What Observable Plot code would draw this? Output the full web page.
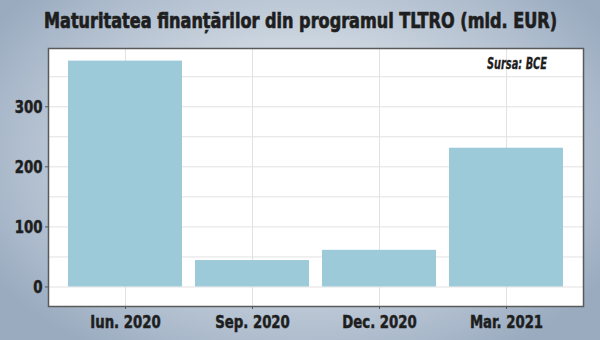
<!DOCTYPE html>
<html>
<head>
<meta charset="utf-8">
<script src="https://cdn.jsdelivr.net/npm/d3@7"></script>
<script src="https://cdn.jsdelivr.net/npm/@observablehq/plot@0.6"></script>
<style>
  html, body { margin: 0; padding: 0; }
  #wrap {
    width: 600px; height: 340px; overflow: hidden; position: relative;
    background: radial-gradient(ellipse 60% 70% at 50% 45%, #e3e8ee 0%, #cdd6e0 45%, #a9b8ca 85%, #9aabbf 100%);
    font-family: "Liberation Sans Narrow", "DejaVu Sans Condensed", sans-serif;
  }
  #title {
    position: absolute; left: 44px; top: 10px; line-height: 22px; white-space: nowrap;
    font-size: 22px; font-weight: bold; color: #1e1e1e;
    -webkit-text-stroke: 0.7px #1e1e1e;
    transform-origin: 0 50%;
  }
  #chart { position: absolute; left: 0; top: 36px; }
  #src {
    position: absolute; left: 487px; top: 55px; white-space: nowrap;
    font-size: 15px; font-weight: bold; font-style: italic; color: #1e1e1e;
    -webkit-text-stroke: 0.3px #1e1e1e;
    transform-origin: 0 50%;
  }
  svg { display: block; }
</style>
</head>
<body>
<div id="wrap">
  <div id="chart"></div>
  <div id="title">Maturitatea finanțărilor din programul TLTRO (mld. EUR)</div>
  <div id="src">Sursa: BCE</div>
</div>
<script>
const categories = ["Iun. 2020", "Sep. 2020", "Dec. 2020", "Mar. 2021"];
const values = [376, 44, 61, 231];
const yTicks = [0, 100, 200, 300];
const gridValues = [0, 50, 100, 150, 200, 250, 300, 350];

const data = categories.map((c, i) => ({category: c, value: values[i]}));

const chart = Plot.plot({
  width: 600,
  height: 304,
  marginLeft: 48,
  marginRight: 17,
  marginTop: 12,
  marginBottom: 34,
  style: {
    background: "transparent",
    fontFamily: '"Liberation Sans Narrow", "DejaVu Sans Condensed", sans-serif',
    fontSize: "18px",
    fontWeight: "bold",
    color: "#1e1e1e"
  },
  x: {domain: categories, padding: 0.1, paddingOuter: 0.15, label: null},
  y: {domain: [-32.5, 397], label: null},
  marks: [
    Plot.frame({fill: "white", stroke: "none"}),
    Plot.ruleY(gridValues, {stroke: "#e2e2e2", strokeWidth: 1}),
    Plot.ruleX(categories, {x: d => d, stroke: "#e2e2e2", strokeWidth: 1}),
    Plot.barY(data, {x: "category", y: "value", fill: "#9dcad8"}),
    Plot.axisY({ticks: yTicks, tickSize: 3, tickPadding: 3, stroke: "#555", label: null}),
    Plot.axisX({tickSize: 3, tickPadding: 6, stroke: "#555", label: null}),
    Plot.frame({stroke: "#5a5a5a", strokeWidth: 1.5})
  ]
});
document.getElementById("chart").appendChild(chart);

// condense glyphs horizontally to mimic a condensed typeface
chart.querySelectorAll("g[aria-label$='tick label'] text").forEach(t => {
  const w = t.getComputedTextLength();
  t.setAttribute("textLength", (w * 0.82).toFixed(1));
  t.setAttribute("lengthAdjust", "spacingAndGlyphs");
  t.setAttribute("stroke", "#1e1e1e");
  t.setAttribute("stroke-width", "0.5");
});
function fit(el, target) {
  const w = el.getBoundingClientRect().width;
  el.style.transform = `scaleX(${target / w})`;
}
fit(document.getElementById("title"), 513);
fit(document.getElementById("src"), 60);
</script>
</body>
</html>
